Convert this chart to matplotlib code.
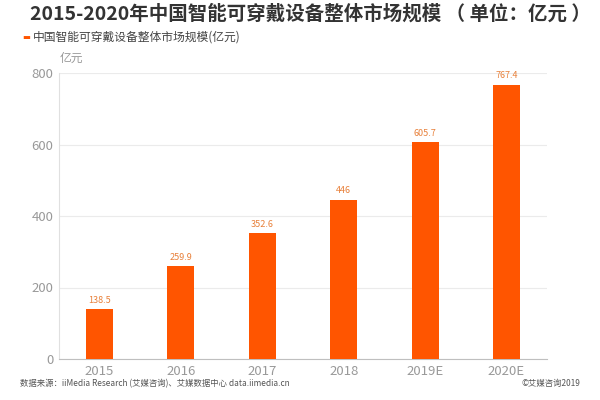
import matplotlib
matplotlib.use('Agg')
import matplotlib.pyplot as plt

plt.rcParams['font.family'] = ['Noto Sans CJK SC', 'DejaVu Sans']

years = ['2015', '2016', '2017', '2018', '2019E', '2020E']
values = [138.5, 259.9, 352.6, 446, 605.7, 767.4]
value_labels = ['138.5', '259.9', '352.6', '446', '605.7', '767.4']

bar_color = '#FF5500'
label_color = '#E8803A'
tick_color = '#999999'

fig = plt.figure(figsize=(6, 4), dpi=100)
ax = fig.add_axes([0.098, 0.1025, 0.814, 0.715])

x = range(len(years))
ax.bar(x, values, width=0.33, color=bar_color, zorder=3)
for xi, v, s in zip(x, values, value_labels):
    ax.text(xi, v + 12, s, ha='center', va='bottom', fontsize=6.5, color=label_color)

ax.set_xlim(-0.5, len(years) - 0.5)
ax.set_ylim(0, 800)
ax.set_yticks([0, 200, 400, 600, 800])
ax.set_xticks(list(x))
ax.set_xticklabels(years)
ax.grid(axis='y', color='#EBEBEB', linewidth=0.8, zorder=0)
ax.tick_params(axis='both', length=0, labelsize=9.5, colors=tick_color, pad=4)
for side in ['top', 'right']:
    ax.spines[side].set_visible(False)
ax.spines['left'].set_color('#E0E0E0')
ax.spines['bottom'].set_color('#BFBFBF')

fig.text(0.05, 0.965, '2015-2020年中国智能可穿戴设备整体市场规模 （ 单位：亿元 ）',
         fontsize=14, fontweight='bold', color='#333333', va='center')
fig.text(0.037, 0.907, '▬', fontsize=6, color=bar_color, va='center')
fig.text(0.055, 0.907, '中国智能可穿戴设备整体市场规模(亿元)',
         fontsize=8.5, color='#444444', va='center')
fig.text(0.1, 0.855, '亿元', fontsize=8.5, color=tick_color, va='center')

fig.text(0.033, 0.042, '数据来源：iiMedia Research (艾媒咨询)、艾媒数据中心 data.iimedia.cn',
         fontsize=6, color='#555555', va='center')
fig.text(0.967, 0.042, '©艾媒咨询2019', fontsize=6, color='#555555',
         va='center', ha='right')

fig.savefig('out.png', dpi=100)
